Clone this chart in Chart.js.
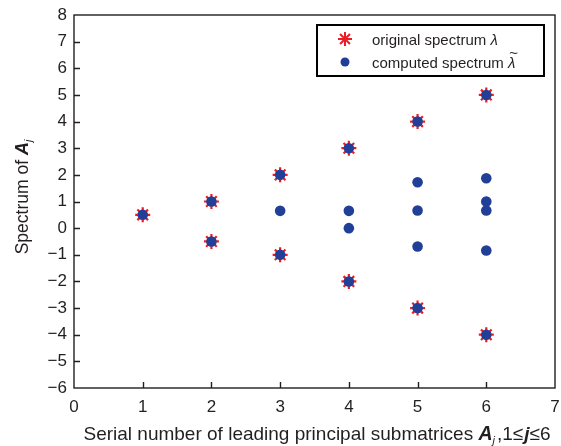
<!DOCTYPE html>
<html>
<head>
<meta charset="utf-8">
<script src="https://cdn.jsdelivr.net/npm/chart.js"></script>
<style>
  body { margin: 0; background: #fff; }
  #wrap { width: 561px; height: 446px; }
</style>
</head>
<body>
<div id="wrap"><canvas id="myChart" width="561" height="446"></canvas></div>
<script>
// data
const originalX = [1, 2, 2, 3, 3, 4, 4, 5, 5, 6, 6];
const originalY = [0.5, 1, -0.5, 2, -1, 3, -2, 4, -3, 5, -4];
const computedX = [1, 2, 2, 3, 3, 3, 4, 4, 4, 4, 5, 5, 5, 5, 5, 6, 6, 6, 6, 6, 6];
const computedY = [0.5, 1, -0.5, 2, 0.65, -1, 3, 0.65, 0, -2, 4, 1.72, 0.66, -0.69, -3, 5, 1.87, 1.0, 0.66, -0.84, -4];
const xTicks = [0, 1, 2, 3, 4, 5, 6, 7];
const yTicks = [-6, -5, -4, -3, -2, -1, 0, 1, 2, 3, 4, 5, 6, 7, 8];

const RED = "#ed1c24";
const BLUE = "#213f96";
const INK = "#231f20";
const FONT = "'Liberation Sans', Arial, sans-serif";

const toPoints = (xs, ys) => xs.map((x, i) => ({ x: x, y: ys[i] }));

// draws text pieces side by side, returns total width
function drawRuns(ctx, runs, x, y, measureOnly) {
    let cx = x;
    runs.forEach((r) => {
        ctx.font = r.font;
        const dy = r.sub ? r.sub : 0;
        if (!measureOnly) ctx.fillText(r.t, cx, y + dy);
        cx += ctx.measureText(r.t).width + (r.after || 0);
    });
    return cx - x;
}

const decorations = {
    id: "decorations",
    afterDatasetsDraw(chart) {
        const ctx = chart.ctx;
        const a = chart.chartArea;
        const xs = chart.scales.x, ys = chart.scales.y;
        ctx.save();
        // box
        ctx.strokeStyle = INK;
        ctx.lineWidth = 1.4;
        ctx.strokeRect(a.left, a.top, a.right - a.left, a.bottom - a.top);
        // inward ticks
        ctx.beginPath();
        xTicks.slice(1, -1).forEach((v) => {
            const px = Math.round(xs.getPixelForValue(v)) + 0.5;
            ctx.moveTo(px, a.bottom);
            ctx.lineTo(px, a.bottom - 6);
        });
        yTicks.slice(1, -1).forEach((v) => {
            const py = Math.round(ys.getPixelForValue(v)) + 0.5;
            ctx.moveTo(a.left, py);
            ctx.lineTo(a.left + 6, py);
        });
        ctx.stroke();

        // legend
        const lx = a.right - 238, ly = a.top + 10;
        ctx.lineWidth = 2;
        ctx.strokeStyle = "#000";
        ctx.strokeRect(lx, ly, 227, 51);
        const d0 = chart.data.datasets[1], d1 = chart.data.datasets[0];
        const mx = lx + 28;
        ctx.strokeStyle = d0.borderColor;
        ctx.fillStyle = d0.backgroundColor;
        Chart.helpers.drawPoint(ctx, { pointStyle: "star", rotation: 0, radius: 7, borderWidth: 2.2 }, mx, ly + 14);
        ctx.fillStyle = d1.backgroundColor;
        ctx.beginPath();
        ctx.arc(mx, ly + 37, 4.5, 0, Math.PI * 2);
        ctx.fill();

        ctx.fillStyle = INK;
        ctx.textBaseline = "alphabetic";
        ctx.textAlign = "left";
        const tx = lx + 55;
        drawRuns(ctx, [
            { t: "original spectrum ", font: `15px ${FONT}` },
            { t: "λ", font: `italic 15px ${FONT}` }
        ], tx, ly + 20);
        const w = drawRuns(ctx, [
            { t: "computed spectrum ", font: `15px ${FONT}` }
        ], tx, ly + 43);
        ctx.font = `italic 15px ${FONT}`;
        ctx.fillText("λ", tx + w, ly + 43);
        ctx.fillText("~", tx + w + 1, ly + 33);

        // x title
        const xRuns = [
            { t: "Serial number of leading principal submatrices ", font: `19px ${FONT}` },
            { t: "A", font: `italic bold 19.5px ${FONT}` },
            { t: "j", font: `italic 11px ${FONT}`, sub: 4, after: 2 },
            { t: ",1", font: `19px ${FONT}` },
            { t: "≤", font: `19px ${FONT}`, after: 1 },
            { t: "j", font: `italic bold 19px ${FONT}` },
            { t: "≤6", font: `19px ${FONT}` }
        ];
        const xw = drawRuns(ctx, xRuns, 0, 0, true);
        drawRuns(ctx, xRuns, 317 - xw / 2, 440);

        // y title
        const yRuns = [
            { t: "Spectrum of ", font: `17.5px ${FONT}` },
            { t: "A", font: `italic bold 18px ${FONT}` },
            { t: "j", font: `italic 11px ${FONT}`, sub: 4 }
        ];
        const yw = drawRuns(ctx, yRuns, 0, 0, true);
        ctx.translate(28, 197);
        ctx.rotate(-Math.PI / 2);
        drawRuns(ctx, yRuns, -yw / 2, 0);
        ctx.restore();
    }
};

const minusFmt = (v) => String(v).replace("-", "\u2212");

new Chart(document.getElementById("myChart"), {
    type: "scatter",
    data: {
        datasets: [
            {
                label: "computed spectrum",
                data: toPoints(computedX, computedY),
                pointStyle: "circle",
                pointRadius: 5.3,
                borderWidth: 0,
                backgroundColor: BLUE,
                borderColor: BLUE,
                order: 1
            },
            {
                label: "original spectrum",
                data: toPoints(originalX, originalY),
                pointStyle: "star",
                pointRadius: 7.5,
                pointBorderWidth: 2.2,
                backgroundColor: RED,
                borderColor: RED,
                order: 2
            }
        ]
    },
    options: {
        responsive: false,
        animation: false,
        layout: { autoPadding: false, padding: { top: 15, right: 6, left: 0, bottom: 0 } },
        plugins: { legend: { display: false }, tooltip: { enabled: false } },
        scales: {
            x: {
                type: "linear",
                min: 0, max: 7,
                afterBuildTicks: (s) => { s.ticks = xTicks.map((v) => ({ value: v })); },
                afterFit: (s) => { s.height = 58; s.paddingLeft = 0; s.paddingRight = 0; },
                grid: { display: false, drawTicks: false },
                border: { display: false },
                ticks: { padding: 9, color: INK, font: { family: FONT, size: 17 }, callback: minusFmt, maxRotation: 0 }
            },
            y: {
                type: "linear",
                min: -6, max: 8,
                afterBuildTicks: (s) => { s.ticks = yTicks.map((v) => ({ value: v })); },
                afterFit: (s) => { s.width = 74; s.paddingTop = 0; s.paddingBottom = 0; },
                grid: { display: false, drawTicks: false },
                border: { display: false },
                ticks: { padding: 7, color: INK, font: { family: FONT, size: 17 }, callback: minusFmt }
            }
        }
    },
    plugins: [decorations]
});
</script>
</body>
</html>
